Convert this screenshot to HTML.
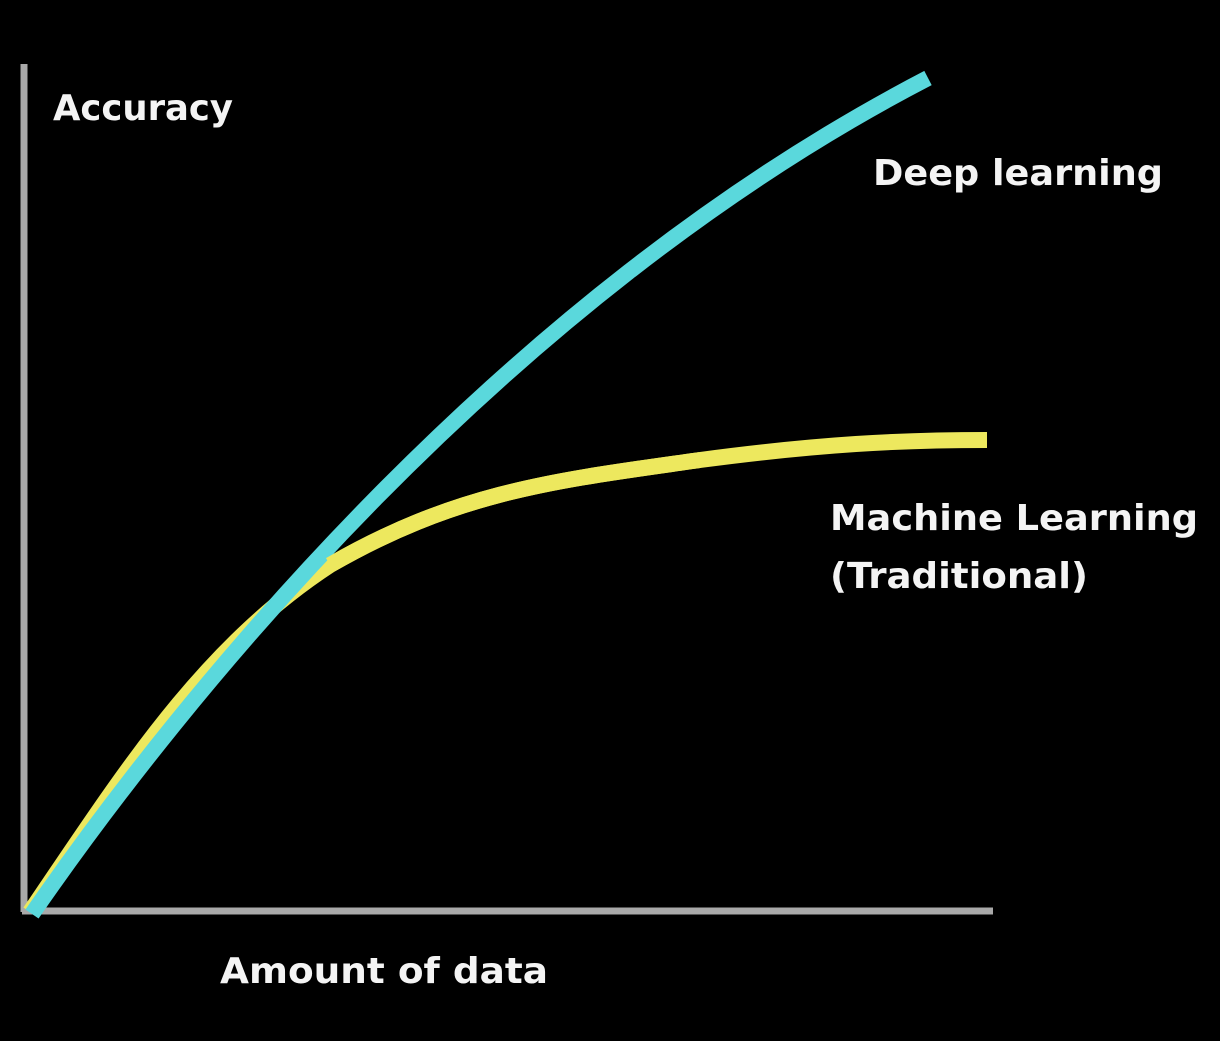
<!DOCTYPE html>
<html><head><meta charset="utf-8"><style>
html,body{margin:0;padding:0;background:#000;}
svg{display:block}
text{font-family:"DejaVu Sans","Liberation Sans",sans-serif;font-weight:bold;fill:#f4f4f4}
</style></head><body>
<svg width="1220" height="1041" viewBox="0 0 1220 1041" xmlns="http://www.w3.org/2000/svg">
<rect width="1220" height="1041" fill="#000"/>
<line x1="24" y1="64" x2="24" y2="912" stroke="#a9a9a9" stroke-width="7"/>
<line x1="22" y1="911" x2="993" y2="911" stroke="#a9a9a9" stroke-width="7"/>
<path d="M30,912 C120,780 200,650 330,565 C460,490 560,480 700,460 C820,444 900,440 987,440" fill="none" stroke="#ede85e" stroke-width="16"/>
<path d="M32,914 C180,700 500,300 928,78" fill="none" stroke="#5ad8dc" stroke-width="16"/>
<path d="M330,565 C460,490 560,480 700,460" fill="none" stroke="#ede85e" stroke-width="16"/>
<text x="53" y="120" font-size="36" textLength="180" lengthAdjust="spacingAndGlyphs">Accuracy</text>
<text x="873" y="185" font-size="36" textLength="290" lengthAdjust="spacingAndGlyphs">Deep learning</text>
<text x="830" y="530" font-size="36" textLength="368" lengthAdjust="spacingAndGlyphs">Machine Learning</text>
<text x="830" y="588" font-size="36" textLength="258" lengthAdjust="spacingAndGlyphs">(Traditional)</text>
<text x="220" y="983" font-size="36" textLength="328" lengthAdjust="spacingAndGlyphs">Amount of data</text>
</svg>
</body></html>
